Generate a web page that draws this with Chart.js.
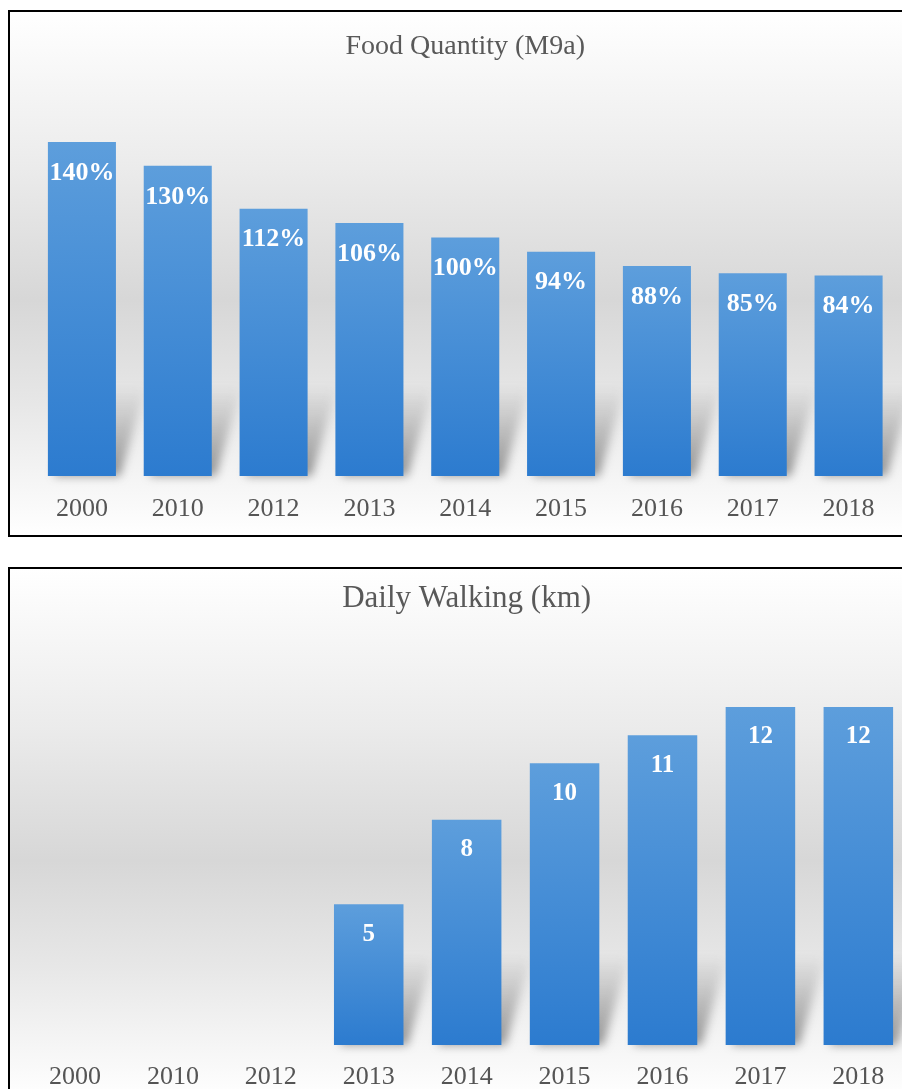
<!DOCTYPE html>
<html>
<head>
<meta charset="utf-8">
<script src="https://cdn.jsdelivr.net/npm/chart.js@4/dist/chart.umd.min.js"></script>
<style>
  html, body { margin: 0; padding: 0; background: #fff; overflow: hidden; width: 902px; height: 1089px; }
  .box {
    position: absolute; left: 8px; width: 900px;
    border-left: 2px solid #000; border-top: 2px solid #000; border-bottom: 2px solid #000;
    background: linear-gradient(to bottom, #ffffff 0%, #ebebeb 30%, #d7d7d7 55%, #e7e7e7 75%, #ffffff 100%);
  }
  #box1 { top: 10px; height: 523px; }
  #box2 { top: 567px; height: 530px; }
  canvas { display: block; }
</style>
</head>
<body>
<div class="box" id="box1"><canvas id="food" width="900" height="523"></canvas></div>
<div class="box" id="box2"><canvas id="walk" width="900" height="530"></canvas></div>
<script>
const years = ['2000', '2010', '2012', '2013', '2014', '2015', '2016', '2017', '2018'];
const foodQuantity = [140, 130, 112, 106, 100, 94, 88, 85, 84];
const dailyWalking = [null, null, null, 5, 8, 10, 11, 12, 12];

// dégradé vertical de chaque barre (clair en haut, foncé en bas)
function barGradient(ctx) {
  const chart = ctx.chart;
  if (!chart.chartArea || ctx.raw == null) return '#3f8bd4';
  const y = chart.scales.y;
  const top = y.getPixelForValue(ctx.raw);
  const bottom = y.getPixelForValue(0);
  const g = chart.ctx.createLinearGradient(0, top, 0, bottom);
  g.addColorStop(0, '#5d9edc');
  g.addColorStop(1, '#2c7bcf');
  return g;
}

// ombre en perspective derrière les barres
const shadowPlugin = {
  id: 'barShadow',
  beforeDatasetsDraw(chart) {
    const ctx = chart.ctx;
    const meta = chart.getDatasetMeta(0);
    ctx.save();
    ctx.filter = 'blur(5px)';
    meta.data.forEach((bar, i) => {
      if (chart.data.datasets[0].data[i] == null) return;
      const w = bar.width;
      const base = bar.base;
      const g = ctx.createLinearGradient(0, base, 0, base - 90);
      g.addColorStop(0, 'rgba(80,80,80,0.6)');
      g.addColorStop(1, 'rgba(80,80,80,0)');
      ctx.fillStyle = g;
      ctx.beginPath();
      ctx.moveTo(bar.x - w / 2 + 6, base);
      ctx.lineTo(bar.x + w / 2 + 4, base);
      ctx.lineTo(bar.x + w / 2 + 30, base - 90);
      ctx.lineTo(bar.x - w / 2 + 30, base - 90);
      ctx.closePath();
      ctx.fill();
    });
    ctx.restore();
  }
};

// étiquettes blanches dans le haut des barres
const labelPlugin = {
  id: 'barLabels',
  afterDatasetsDraw(chart, args, opts) {
    const ctx = chart.ctx;
    const meta = chart.getDatasetMeta(0);
    ctx.save();
    ctx.fillStyle = '#ffffff';
    ctx.font = 'bold ' + opts.size + 'px "Liberation Serif", "Times New Roman", serif';
    ctx.textAlign = 'center';
    ctx.textBaseline = 'middle';
    meta.data.forEach((bar, i) => {
      const v = chart.data.datasets[0].data[i];
      if (v == null) return;
      ctx.fillText(v + opts.suffix, bar.x, bar.y + opts.offset);
    });
    ctx.restore();
  }
};

function makeChart(id, values, opt) {
  return new Chart(document.getElementById(id), {
    type: 'bar',
    data: {
      labels: years,
      datasets: [{
        data: values,
        backgroundColor: barGradient,
        borderWidth: 0,
        categoryPercentage: 1,
        barPercentage: 0.71
      }]
    },
    options: {
      responsive: false,
      animation: false,
      layout: { padding: { left: opt.left, right: opt.right, top: 0, bottom: 0 } },
      plugins: {
        legend: { display: false },
        tooltip: { enabled: false },
        title: {
          display: true,
          text: opt.title,
          color: '#595959',
          font: { family: '"Liberation Serif", "Times New Roman", serif', size: opt.titleSize, weight: 'normal', lineHeight: 1.2 },
          padding: { top: opt.titleTop, bottom: opt.titleBottom }
        },
        barLabels: { size: opt.labelSize, suffix: opt.suffix, offset: opt.labelOffset }
      },
      scales: {
        x: {
          grid: { display: false, drawTicks: false },
          border: { display: false },
          ticks: {
            color: '#555555',
            padding: opt.tickPad,
            font: { family: '"Liberation Serif", "Times New Roman", serif', size: 26, lineHeight: 1.2 }
          },
          afterFit(s) { s.height = opt.axisHeight; }
        },
        y: { display: false, min: 0, max: opt.max }
      }
    },
    plugins: [shadowPlugin, labelPlugin]
  });
}

makeChart('food', foodQuantity, {
  title: 'Food Quantity (M9a)', titleSize: 28, titleTop: 18, titleBottom: 54.5,
  left: 24, right: 13.5, max: 150, axisHeight: 59, tickPad: 17.5,
  labelSize: 26, suffix: '%', labelOffset: 31
});

makeChart('walk', dailyWalking, {
  title: 'Daily Walking (km)', titleSize: 31, titleTop: 11.5, titleBottom: 33,
  left: 16, right: 2.7, max: 14, axisHeight: 54, tickPad: 17,
  labelSize: 25, suffix: '', labelOffset: 30
});
</script>
</body>
</html>
